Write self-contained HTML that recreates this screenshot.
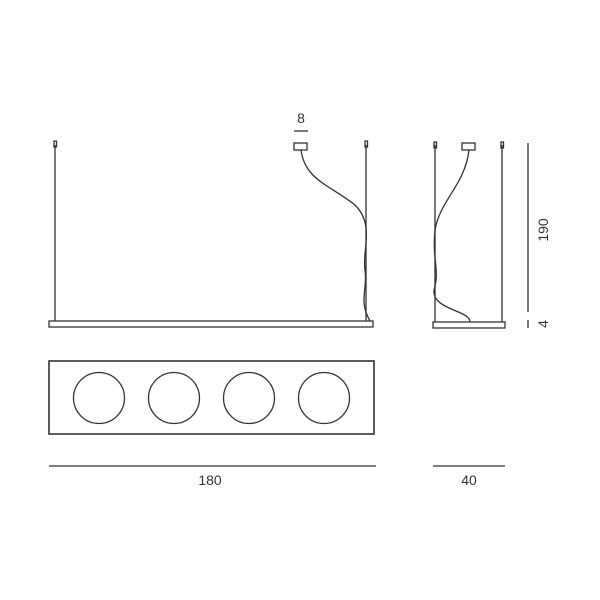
<!DOCTYPE html>
<html><head><style>body{margin:0;background:#fff}svg{display:block}</style></head><body>
<svg width="600" height="600" viewBox="0 0 600 600" xmlns="http://www.w3.org/2000/svg" font-family="Liberation Sans, sans-serif">
<g fill="none" stroke="#333" stroke-width="1.3">
<!-- front view -->
<line x1="55" y1="145" x2="55" y2="321"/>
<line x1="366" y1="145" x2="366" y2="321"/>
<rect x="54" y="141" width="2.5" height="6"/>
<rect x="365" y="141" width="2.5" height="6"/>
<rect x="49" y="321" width="324" height="6"/>
<rect x="294" y="143" width="13" height="7"/>
<path d="M301 150 C305 180 330 185 355 205 C375 225 362 250 365 270 C368 290 358 300 370 321"/>
<line x1="294" y1="131" x2="308" y2="131"/>
<!-- side view -->
<line x1="435" y1="145" x2="435" y2="322"/>
<line x1="502" y1="145" x2="502" y2="322"/>
<rect x="434" y="142" width="2.5" height="6"/>
<rect x="501" y="142" width="2.5" height="6"/>
<rect x="433" y="322" width="72" height="6"/>
<rect x="462" y="143" width="13" height="7"/>
<path d="M469 150 C465 185 440 200 435 230 C432 260 440 270 434 290 C432 310 470 310 470 322"/>
<line x1="528" y1="143" x2="528" y2="312"/>
<line x1="528" y1="320" x2="528" y2="328"/>
<!-- bottom view -->
<rect x="49" y="361" width="325" height="73" stroke-width="1.6"/>
<circle cx="99" cy="398" r="25.5"/>
<circle cx="174" cy="398" r="25.5"/>
<circle cx="249" cy="398" r="25.5"/>
<circle cx="324" cy="398" r="25.5"/>
<line x1="49" y1="466" x2="376" y2="466"/>
<line x1="433" y1="466" x2="505" y2="466"/>
</g>
<g fill="#333" font-size="14" text-anchor="middle">
<text x="301" y="123">8</text>
<text x="210" y="485">180</text>
<text x="469" y="485">40</text>
<text transform="translate(548,230) rotate(-90)">190</text>
<text transform="translate(548,324) rotate(-90)">4</text>
</g>
</svg>
</body></html>
